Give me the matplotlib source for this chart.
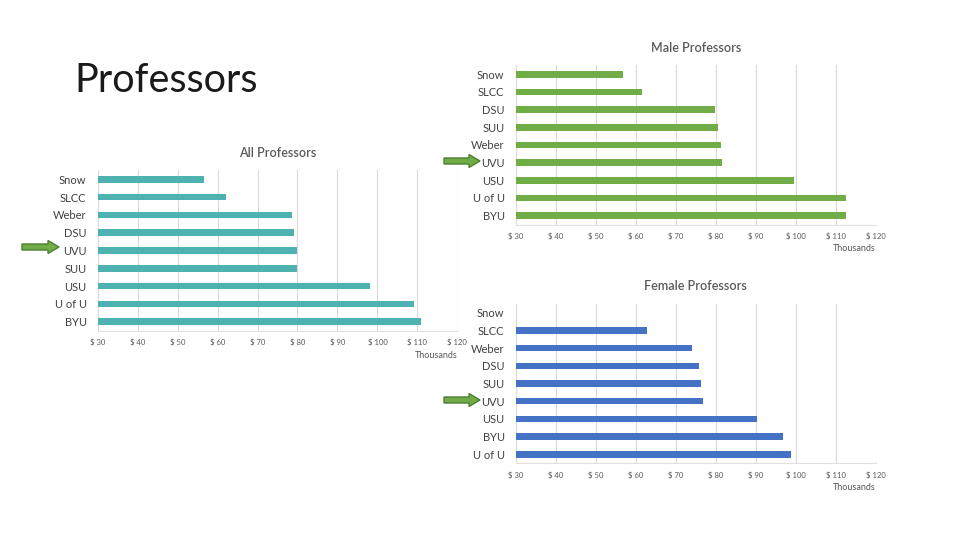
import matplotlib
matplotlib.use("Agg")
import matplotlib.pyplot as plt
from matplotlib.patches import FancyArrow
import numpy as np

# ---- data ----
all_schools = ["Snow", "SLCC", "Weber", "DSU", "UVU", "SUU", "USU", "U of U", "BYU"]
all_salary = [56.6, 62.0, 78.6, 79.2, 80.0, 79.8, 98.1, 109.2, 110.8]

male_schools = ["Snow", "SLCC", "DSU", "SUU", "Weber", "UVU", "USU", "U of U", "BYU"]
male_salary = [56.8, 61.5, 79.8, 80.5, 81.3, 81.6, 99.5, 112.5, 112.4]

female_schools = ["Snow", "SLCC", "Weber", "DSU", "SUU", "UVU", "USU", "BYU", "U of U"]
female_salary = [np.nan, 62.7, 74.0, 75.8, 76.2, 76.9, 90.3, 96.8, 98.7]

x_ticks = [30, 40, 50, 60, 70, 80, 90, 100, 110, 120]
x_tick_labels = ["$ 30", "$ 40", "$ 50", "$ 60", "$ 70", "$ 80", "$ 90", "$ 100", "$ 110", "$ 120"]

plt.rcParams['font.family'] = ['Lato', 'DejaVu Sans']

W, H = 960, 540
fig = plt.figure(figsize=(9.6, 5.4), dpi=100)
fig.patch.set_facecolor('white')


def box(left, right, top, bottom):
    return [left / W, 1 - bottom / H, (right - left) / W, (bottom - top) / H]


def draw(rect, cats, vals, color, title):
    ax = fig.add_axes(rect)
    y = np.arange(len(cats))
    ax.barh(y, vals, height=0.36, color=color, zorder=3)
    ax.set_ylim(len(cats) - 0.5, -0.5)
    ax.set_xlim(30, 120)
    ax.set_yticks(y)
    ax.set_yticklabels(cats, fontsize=8, color='#404040')
    ax.set_xticks(x_ticks)
    ax.set_xticklabels(x_tick_labels, fontsize=5.5, color='#595959')
    ax.tick_params(axis='both', length=0)
    ax.tick_params(axis='y', pad=8)
    ax.tick_params(axis='x', pad=6)
    ax.grid(axis='x', color='#D9D9D9', linewidth=0.8, zorder=0)
    for s in ['top', 'right', 'left']:
        ax.spines[s].set_visible(False)
    ax.spines['bottom'].set_color('#E0E0E0')
    ax.spines['bottom'].set_linewidth(0.8)
    ax.set_title(title, fontsize=9, color='#595959', fontweight='semibold', pad=10)
    ax.text(1.0, -0.125, "Thousands", transform=ax.transAxes, ha='right', va='top',
            fontsize=6.5, color='#595959')
    return ax


draw(box(97.7, 457.3, 170.4, 330.6), all_schools, all_salary, '#4EB3B0', "All Professors")
draw(box(515.7, 876.0, 65.5, 224.5), male_schools, male_salary, '#70AD47', "Male Professors")
draw(box(515.7, 876.0, 303.8, 463.2), female_schools, female_salary, '#4472C4', "Female Professors")

fig.text(74 / W, 1 - 80 / H, "Professors", fontsize=28.5, fontweight='normal',
         color='#1a1a1a', ha='left', va='center')


def arrow(x0, x1, yc):
    a = FancyArrow(x0 / W, 1 - yc / H, (x1 - x0) / W, 0,
                   width=6 / H, head_width=13 / H, head_length=11 / W,
                   length_includes_head=True, transform=fig.transFigure,
                   facecolor='#70AD47', edgecolor='#4E7F32', linewidth=1.0)
    fig.patches.append(a)


arrow(444, 480, 161)
arrow(22, 59, 247)
arrow(444, 480, 400)

fig.savefig("out.png", dpi=100, facecolor='white')
